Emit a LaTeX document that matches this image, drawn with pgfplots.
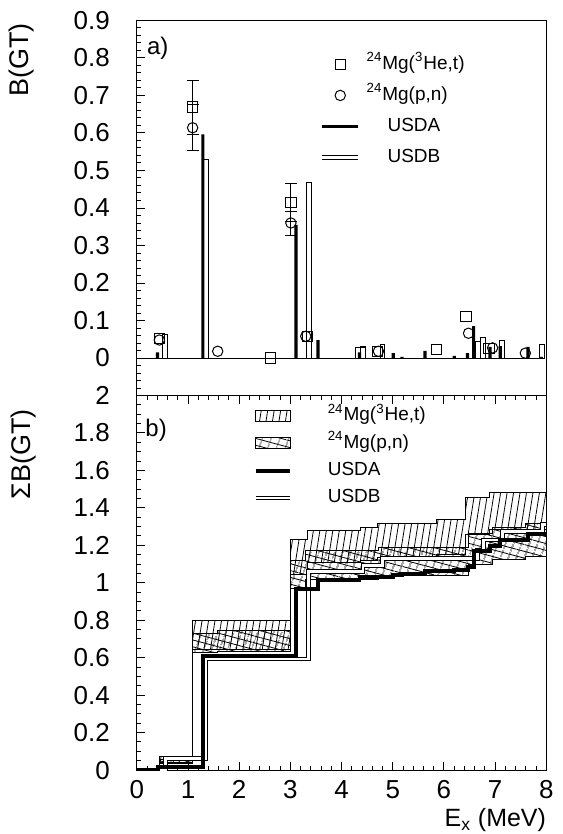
\documentclass[border=0pt]{standalone}
\usepackage{fontspec}
\setmainfont{Liberation Sans}
\usepackage{pgfplots}
\usepackage{pgfplotstable}
\pgfplotsset{compat=1.18}
\usepgfplotslibrary{fillbetween}
\usetikzlibrary{patterns.meta}

% (3He,t) points
\pgfplotstableread{
x y
0.44 0.052
1.09 0.669
2.61 0.000
3.01 0.415
3.33 0.058
4.37 0.013
4.70 0.017
5.86 0.022
6.43 0.110
6.88 0.025
}\hetdata
% (p,n) points
\pgfplotstableread{
x y
0.44 0.048
1.09 0.614
1.58 0.018
3.01 0.360
3.30 0.058
4.72 0.018
6.48 0.066
6.95 0.027
7.59 0.013
}\pndata
\pgfplotstableread{
x y e
1.09 0.669 0.072
1.09 0.614 0.062
3.01 0.415 0.050
3.01 0.360 0.032
}\errdata
\pgfplotstableread{
x y
0.405 0.015
1.29 0.596
3.11 0.355
3.54 0.048
4.35 0.015
5.01 0.013
5.18 0.003
5.63 0.019
6.20 0.006
6.46 0.013
6.58 0.085
6.90 0.030
7.10 0.032
7.64 0.030
7.90 0.003
}\usda
\pgfplotstableread{
x y
0.555 0.063
1.35 0.530
3.36 0.469
4.42 0.030
4.80 0.037
6.66 0.044
6.77 0.055
7.14 0.046
7.92 0.037
}\usdb
% running sums
\pgfplotstableread{
x up lo
0 0 0
0.44 0.070 0.034
1.09 0.800 0.642
3.01 1.230 1.042
3.33 1.280 1.108
4.37 1.295 1.119
4.70 1.315 1.133
5.86 1.340 1.152
6.43 1.456 1.256
6.88 1.480 1.282
8.00 1.480 1.282
}\hetsum
\pgfplotstableread{
x up lo
0 0 0
0.44 0.058 0.038
1.09 0.730 0.630
1.58 0.745 0.635
3.01 1.120 0.970
3.30 1.173 1.020
4.72 1.190 1.040
6.48 1.265 1.100
6.95 1.295 1.125
7.59 1.315 1.140
8.00 1.315 1.140
}\pnsum
\pgfplotstableread{
x y
0 0
0.405 0.015
1.29 0.611
3.11 0.966
3.54 1.014
4.35 1.029
5.01 1.042
5.18 1.045
5.63 1.064
6.20 1.070
6.46 1.083
6.58 1.168
6.90 1.198
7.10 1.230
7.64 1.260
7.90 1.263
8.00 1.263
}\usdasum
\pgfplotstableread{
x y
0 0
0.555 0.063
1.35 0.593
3.36 1.062
4.42 1.092
4.80 1.129
6.66 1.173
6.77 1.228
7.14 1.274
7.92 1.311
8.00 1.311
}\usdbsum

\pgfplotsset{
  panel/.style={
    scale only axis, width=205pt, xmin=0, xmax=8,
    axis line style={line width=0.5pt},
    tick style={black, line width=0.5pt},
    major tick length=4pt, minor tick length=2pt,
    tick align=inside, ytick pos=left,
    /pgf/number format/assume math mode=true,
    ticklabel style={font=\fontsize{13}{15}\selectfont},
    yticklabel style={xshift=-10pt},
    xticklabel style={yshift=-1.7pt},
    ylabel style={font=\fontsize{13.5}{16}\selectfont, inner sep=0pt, anchor=south east},
    legend style={draw=none, fill=none, inner sep=0pt, anchor=north west,
      font=\fontsize{9.5}{11}\selectfont, row sep=4.5pt,
      nodes={inner sep=1pt, text height=7pt, text depth=2pt}},
    legend cell align=left,
  },
  usdbline/.style={draw=black, line width=0.5pt, double=white, double distance=1.4pt},
}

\begin{document}
\begin{tikzpicture}
% ---- a) B(GT)
\begin{axis}[panel, at={(0,187.5pt)}, height=187.75pt,
  ymin=-0.1, ymax=0.9,
  ytick={-0.1,0,0.1,0.2,0.3,0.4,0.5,0.6,0.7,0.8,0.9},
  yticklabels={,0,0.1,0.2,0.3,0.4,0.5,0.6,0.7,0.8,0.9},
  minor y tick num=4, xtick=\empty,
  ylabel={B(GT)}, ylabel style={at={(axis description cs:-0.249,0.993)}},
  legend style={at={(axis description cs:0.446,0.913)}},
  legend image code/.code={\draw[mark repeat=2,mark phase=2,#1] plot coordinates {(0pt,0pt) (9pt,0pt) (18pt,0pt)};},
]
\addlegendimage{only marks, mark=square, mark size=2.6pt, black, line width=0.5pt}
\addlegendentry{\hspace{2pt}\textsuperscript{24}Mg(\textsuperscript{3}He,t)}
\addlegendimage{only marks, mark=o, mark size=2.6pt, black, line width=0.5pt}
\addlegendentry{\hspace{2pt}\textsuperscript{24}Mg(p,n)}
\addlegendimage{no markers, black, line width=1.6pt}
\addlegendentry{\hspace{12.5pt}USDA}
\addlegendimage{no markers, usdbline}
\addlegendentry{\hspace{12.5pt}USDB}

\addplot[forget plot, black, line width=0.4pt] coordinates {(0,0) (7.96,0)};
\addplot[forget plot, ybar, bar width=2.4pt, fill=white, draw=black, line width=0.5pt] table {\usdb};
\addplot[forget plot, ybar, bar width=1.6pt, fill=black, draw=none] table {\usda};
\addplot[forget plot, draw=none, mark=none,
  error bars/.cd, y dir=both, y explicit,
  error bar style={draw=black, line width=0.5pt},
  error mark options={rotate=90, mark size=3pt, line width=0.5pt, draw=black}]
  table[x=x, y=y, y error=e] {\errdata};
\addplot[forget plot, only marks, mark=square, mark size=2.6pt, black, mark options={line width=0.5pt, fill=none}] table {\hetdata};
\addplot[forget plot, only marks, mark=o, mark size=2.6pt, black, mark options={line width=0.5pt, fill=none}] table {\pndata};
\node[anchor=north west, inner sep=0pt, font=\fontsize{12}{14}\selectfont] at (axis description cs:0.024,0.956) {a)};
\end{axis}

% ---- b) sum B(GT)
\begin{axis}[panel, at={(0,0)}, height=187.5pt,
  ymin=0, ymax=2,
  ytick={0,0.2,0.4,0.6,0.8,1,1.2,1.4,1.6,1.8,2},
  yticklabels={0,0.2,0.4,0.6,0.8,1,1.2,1.4,1.6,1.8,2},
  minor y tick num=3,
  xtick={0,1,2,3,4,5,6,7,8}, minor x tick num=4, xtick pos=both, xticklabel pos=bottom,
  ylabel={ΣB(GT)}, ylabel style={at={(axis description cs:-0.245,0.965)}},
  xlabel={E\textsubscript{x} (MeV)},
  xlabel style={at={(axis description cs:1,0)}, anchor=north east, inner sep=0pt, yshift=-19pt,
    font=\fontsize{12.5}{15}\selectfont},
  legend style={at={(axis description cs:0.283,0.976)}, row sep=2.7pt},
  legend image code/.code={\draw[#1] (0pt,0pt) -- (17.5pt,0pt);},
]
\addlegendimage{legend image code/.code={
  \draw[black, line width=0.5pt, pattern={Lines[angle=81,distance=3.2pt,line width=0.4pt]}] (0pt,-2.75pt) rectangle (17.5pt,2.75pt);}}
\addlegendentry{\hspace{16.5pt}\textsuperscript{24}Mg(\textsuperscript{3}He,t)}
\addlegendimage{legend image code/.code={
  \fill[pattern={Lines[angle=-15,distance=3.3pt,line width=0.4pt]}] (0pt,-2.75pt) rectangle (17.5pt,2.75pt);
  \draw[black, line width=0.5pt, pattern={Lines[angle=70,distance=4pt,line width=0.4pt]}] (0pt,-2.75pt) rectangle (17.5pt,2.75pt);}}
\addlegendentry{\hspace{16.5pt}\textsuperscript{24}Mg(p,n)}
\addlegendimage{black, line width=2pt}
\addlegendentry{\hspace{16.5pt}USDA}
\addlegendimage{usdbline}
\addlegendentry{\hspace{16.5pt}USDB}

\addplot[forget plot, const plot, black, line width=0.5pt, name path=hu] table[x=x, y=up] {\hetsum};
\addplot[forget plot, const plot, black, line width=0.5pt, name path=hl] table[x=x, y=lo] {\hetsum};
\addplot[forget plot, pattern={Lines[angle=81,distance=3.2pt,line width=0.4pt]}] fill between[of=hu and hl];
\addplot[forget plot, const plot, black, line width=0.5pt, name path=pu] table[x=x, y=up] {\pnsum};
\addplot[forget plot, const plot, black, line width=0.5pt, name path=pl] table[x=x, y=lo] {\pnsum};
\addplot[forget plot, pattern={Lines[angle=-15,distance=3.3pt,line width=0.4pt]}] fill between[of=pu and pl];
\addplot[forget plot, pattern={Lines[angle=70,distance=4pt,line width=0.4pt]}] fill between[of=pu and pl];
\addplot[forget plot, const plot, usdbline] table {\usdbsum};
\addplot[forget plot, const plot, black, line width=2pt] table {\usdasum};
\node[anchor=north west, inner sep=0pt, font=\fontsize{12}{14}\selectfont] at (axis description cs:0.02,0.939) {b)};
\end{axis}
\pgfresetboundingbox
\path (-68.5pt,-32pt) rectangle (213pt,385.5pt);
\end{tikzpicture}
\end{document}
